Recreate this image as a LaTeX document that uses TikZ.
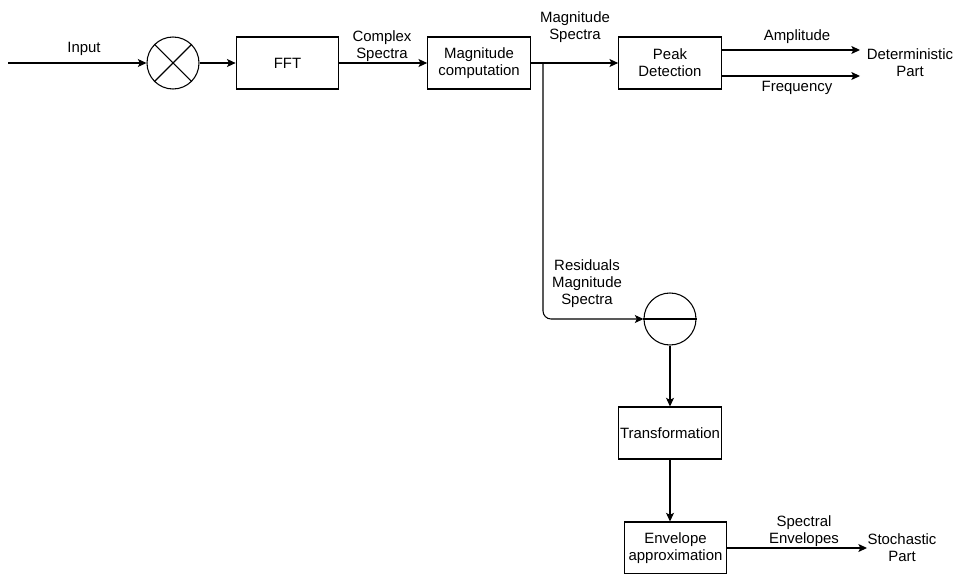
\documentclass[tikz,border=0pt]{standalone}
\usepackage{fontspec}
\setmainfont{Liberation Sans}
\usetikzlibrary{arrows.meta}
\tikzset{
	blk/.style={draw, line width=0.8pt, minimum width=77pt, minimum height=39pt, inner sep=0pt, align=center},
	op/.style={draw, circle, line width=0.8pt, minimum size=39pt, inner sep=0pt},
	lbl/.style={align=center, inner sep=0pt},
	sig/.style={line width=0.8pt, -{Stealth[length=6.5pt, width=6pt, inset=1.5pt]}}
}

\begin{document}
\begin{tikzpicture}[x=0.75pt, y=-0.75pt, font=\fontsize{11.2}{12.8}\selectfont]
		%%%%% START %%%%%
		
		\useasboundingbox (0, 0) rectangle (956, 574);
		
		% upper chain
		\coordinate (in) at (8, 63);
		\node[op] (mult) at (173, 63) {};
		\draw[line width=0.8pt] (mult.north east) -- (mult.south west);
		\draw[line width=0.8pt] (mult.north west) -- (mult.south east);
		\node[blk] (fft) at (287.5, 63) {FFT};
		\node[blk] (mag) at (479, 63) {Magnitude\\computation};
		\node[blk] (peak) at (670, 63) {Peak\\Detection};
		\coordinate (split) at (543, 63);
		
		\draw[sig] (in) -- (mult);
		\draw[sig] (mult) -- (fft);
		\draw[sig] (fft) -- (mag);
		\draw[sig] (mag.east) -- (split) -- (peak.west);
		
		\node[lbl] (inputlbl) at (84, 49) {Input};
		\node[lbl] (complexlbl) at (382, 46) {Complex\\Spectra};
		\node[lbl] (magspeclbl) at (575, 27) {Magnitude\\Spectra};
		
		% deterministic part
		\node[lbl] (determ) at (910, 63) {Deterministic\\Part};
		\coordinate (ampend) at (860, 50);
		\coordinate (freqend) at (860, 76);
		\draw[sig] (peak.east |- ampend) -- (ampend);
		\draw[sig] (peak.east |- freqend) -- (freqend);
		\node[lbl] (amplbl) at (797, 37) {Amplitude};
		\node[lbl] (freqlbl) at (797, 88) {Frequency};
		
		% residual branch
		\node[op] (sub) at (670, 319) {};
		\draw[line width=0.8pt] (sub.west) -- (sub.east);
		\draw[sig, rounded corners=6pt] (split) -- (543, 319) -- (sub.west);
		\node[lbl] (reslbl) at (587, 284) {Residuals\\Magnitude\\Spectra};
		
		\node[blk] (trans) at (670, 433) {Transformation};
		\node[blk] (env) at (675.5, 548) {Envelope\\approximation};
		\draw[sig] (sub) -- (trans);
		\draw[sig] (trans) -- (trans |- env.north);
		
		% stochastic part
		\coordinate (stochend) at (867, 548);
		\draw[sig] (env.east) -- (stochend);
		\node[lbl] (envlbl) at (804, 531) {Spectral\\Envelopes};
		\node[lbl] (stoch) at (902, 548) {Stochastic\\Part};
		
		%%%%% END %%%%%
	\end{tikzpicture}
\end{document}
